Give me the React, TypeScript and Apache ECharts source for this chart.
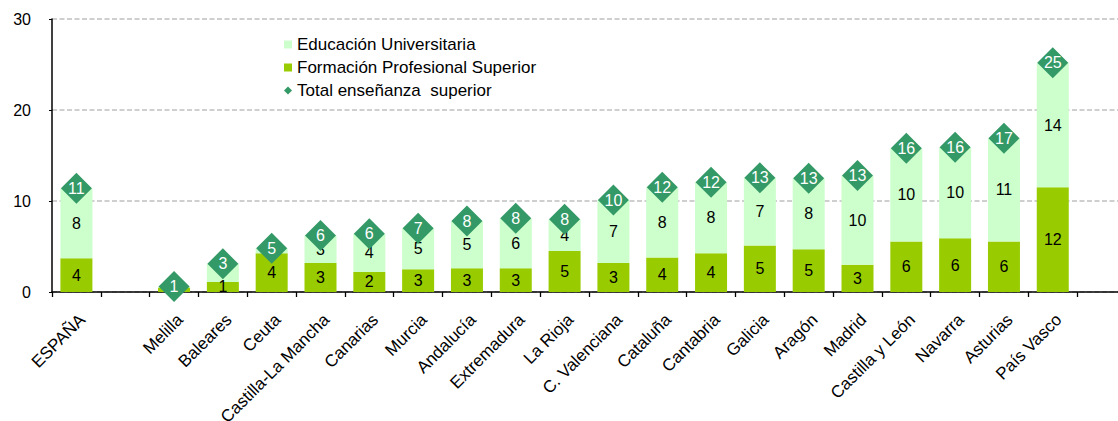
import React, { useEffect, useRef } from "react";
import * as echarts from "echarts";

const categories = [
  "ESPAÑA", "", "Melilla", "Baleares", "Ceuta", "Castilla-La Mancha", "Canarias",
  "Murcia", "Andalucía", "Extremadura", "La Rioja", "C. Valenciana", "Cataluña",
  "Cantabria", "Galicia", "Aragón", "Madrid", "Castilla y León", "Navarra",
  "Asturias", "País Vasco", "",
];
const formacionProfesional = [
  3.7, null, 0.5, 1.1, 4.25, 3.2, 2.2, 2.5, 2.6, 2.6, 4.5, 3.2, 3.8, 4.25, 5.1,
  4.7, 3.0, 5.55, 5.9, 5.55, 11.5, null,
];
const educacionUniversitaria = [
  7.7, null, 0.1, 2.0, 0.55, 3.0, 4.2, 4.5, 5.2, 5.5, 3.5, 6.9, 7.7, 7.8, 7.45,
  7.8, 9.8, 10.25, 10.0, 11.35, 13.7, null,
];
const totalSuperior = [
  11.4, null, 0.6, 3.1, 4.8, 6.2, 6.4, 7.0, 7.8, 8.1, 8.0, 10.1, 11.5, 12.05,
  12.55, 12.5, 12.8, 15.8, 15.9, 16.9, 25.2, null,
];
const seriesNames = [
  "Educación Universitaria",
  "Formación Profesional Superior",
  "Total enseñanza  superior",
];
// University labels that the reference hides behind the diamond marker
const hiddenUnivLabels = ["Baleares"];

const FONT = "Liberation Sans, Arial, sans-serif";

const roundLabel = (p: any) => {
  const v = Math.round(Number(p.value));
  return v === 0 || isNaN(v) ? "" : String(v);
};
const univLabel = (p: any) => (hiddenUnivLabels.includes(p.name) ? "" : roundLabel(p));

export default function App() {
  const ref = useRef<HTMLDivElement>(null);
  useEffect(() => {
    if (!ref.current) return;
    const chart = echarts.init(ref.current, undefined, { renderer: "svg" });
    chart.setOption({
      animation: false,
      backgroundColor: "#ffffff",
      textStyle: { fontFamily: FONT },
      grid: {
        left: 52,
        top: 19,
        bottom: 129,
        right: -8,
        containLabel: false,
        outerBoundsMode: "none",
      },
      legend: {
        orient: "vertical",
        left: 284,
        top: 35,
        padding: 0,
        itemWidth: 8,
        itemHeight: 8,
        itemGap: 4,
        textStyle: { fontFamily: FONT, fontSize: 17, color: "#000", lineHeight: 19 },
        data: [
          { name: seriesNames[0], icon: "rect" },
          { name: seriesNames[1], icon: "rect" },
          { name: seriesNames[2], icon: "diamond" },
        ],
      },
      xAxis: {
        type: "category",
        data: categories,
        axisLine: { lineStyle: { color: "#000", width: 1.5 } },
        axisTick: { show: true, length: 5, lineStyle: { color: "#000", width: 1.3 } },
        axisLabel: {
          interval: 0,
          rotate: 45,
          margin: 19,
          verticalAlign: "top",
          fontFamily: FONT,
          fontSize: 17,
          color: "#000",
        },
      },
      yAxis: {
        type: "value",
        min: 0,
        max: 30,
        interval: 10,
        axisLine: { show: true, lineStyle: { color: "#000", width: 1.5 } },
        axisTick: { show: true, inside: false, length: 3, lineStyle: { color: "#000" } },
        axisLabel: { fontFamily: FONT, fontSize: 16, color: "#000", margin: 21 },
        splitLine: { lineStyle: { color: "#c0c0c0", type: [5, 2.5], width: 1.5 } },
      },
      series: [
        {
          name: seriesNames[1],
          type: "bar",
          stack: "total",
          barWidth: 32,
          data: formacionProfesional,
          itemStyle: { color: "#99cc00" },
          label: {
            show: true,
            position: "inside",
            color: "#000",
            fontFamily: FONT,
            fontSize: 16,
            formatter: roundLabel,
          },
        },
        {
          name: seriesNames[0],
          type: "bar",
          stack: "total",
          barWidth: 32,
          data: educacionUniversitaria,
          itemStyle: { color: "#ccffcc" },
          label: {
            show: true,
            position: "inside",
            color: "#000",
            fontFamily: FONT,
            fontSize: 16,
            formatter: univLabel,
          },
        },
        {
          name: seriesNames[2],
          type: "scatter",
          z: 5,
          symbol: "diamond",
          symbolSize: [31, 31],
          data: totalSuperior,
          itemStyle: { color: "#339966", opacity: 1 },
          label: {
            show: true,
            position: "inside",
            color: "#ffffff",
            fontFamily: FONT,
            fontSize: 16,
            formatter: roundLabel,
          },
        },
      ],
    });
    return () => chart.dispose();
  }, []);
  return (
    <div
      ref={ref}
      style={{ position: "fixed", left: 0, top: 0, width: 1118, height: 421, overflow: "hidden" }}
    />
  );
}
